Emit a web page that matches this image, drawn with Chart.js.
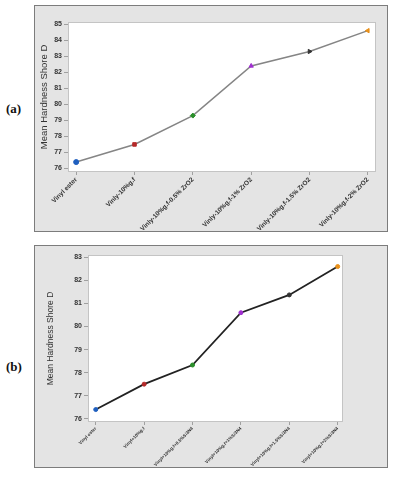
<!DOCTYPE html>
<html>
<head>
<meta charset="utf-8">
<script src="https://cdn.jsdelivr.net/npm/chart.js@4"></script>
<style>
    body { margin: 0; width: 394px; height: 480px; background: #fff; position: relative; overflow: hidden; }
    .panel { position: absolute; left: 34px; width: 354px; background: #e4e4e4; border: 1px solid #7c7c7c; box-sizing: border-box; }
    .panel canvas { display: block; }
    .tag { position: absolute; left: 6px; font: bold 13px "Liberation Serif", "DejaVu Serif", serif; color: #111; }
</style>
</head>
<body>
<div class="tag" style="top: 101px;">(a)</div>
<div class="tag" style="top: 359px;">(b)</div>
<div class="panel" style="top: 5px; height: 227px;"><canvas id="chartA" width="352" height="225"></canvas></div>
<div class="panel" style="top: 245px; height: 223px;"><canvas id="chartB" width="352" height="221"></canvas></div>

<script>
// Mean hardness data, panel (a): glass fibre + ZrO2
const labelsA = ["Vinyl ester", "Vinly-10%g.f", "Vinly-10%g.f-0.5% ZrO2", "Vinly-10%g.f-1% ZrO2", "Vinly-10%g.f-1.5% ZrO2", "Vinly-10%g.f-2% ZrO2"];
const valuesA = [76.4, 77.5, 79.3, 82.4, 83.3, 84.6];
const yTicksA = [76, 77, 78, 79, 80, 81, 82, 83, 84, 85];

// panel (b): glass fibre + Si3N4
const labelsB = ["Vinyl ester", "Vinyl+10%g.f", "Vinyl+10%g.f+0.5%Si3N4", "Vinyl+10%g.f+1%Si3N4", "Vinyl+10%g.f+1.5%Si3N4", "Vinyl+10%g.f+2%Si3N4"];
const valuesB = [76.4, 77.5, 78.33, 80.6, 81.37, 82.6];
const yTicksB = [76, 77, 78, 79, 80, 81, 82, 83];

const markerColors = ["#1f5fbf", "#b52a2a", "#2a8f2a", "#a030d0", "#333333", "#e8901a"];

// white plot area with thin border
const plotBg = {
    id: "plotBg",
    beforeDraw(chart) {
        const { ctx, chartArea: a } = chart;
        ctx.save();
        ctx.fillStyle = "#ffffff";
        ctx.fillRect(a.left, a.top, a.right - a.left, a.bottom - a.top);
        ctx.strokeStyle = "#c4c4c4";
        ctx.lineWidth = 1;
        ctx.strokeRect(a.left + 0.5, a.top + 0.5, a.right - a.left - 1, a.bottom - a.top - 1);
        ctx.restore();
    }
};

function buildChart(id, cfg) {
    const ctx = document.getElementById(id).getContext("2d");
    return new Chart(ctx, {
        type: "line",
        data: {
            datasets: [{
                data: cfg.values.map((v, i) => ({ x: i, y: v })),
                borderColor: cfg.lineColor,
                borderWidth: cfg.lineWidth,
                tension: 0,
                pointStyle: cfg.pointStyles,
                pointRotation: cfg.pointRotations,
                pointRadius: cfg.pointRadius,
                pointBackgroundColor: markerColors,
                pointBorderColor: markerColors,
                pointBorderWidth: 1
            }]
        },
        options: {
            responsive: false,
            animation: false,
            layout: { padding: cfg.padding },
            plugins: { legend: { display: false }, tooltip: { enabled: false } },
            scales: {
                x: {
                    type: "linear",
                    min: cfg.xMin,
                    max: cfg.xMax,
                    afterBuildTicks: s => { s.ticks = cfg.labels.map((l, i) => ({ value: i })); },
                    afterFit: s => { s.height = cfg.xHeight; },
                    grid: { drawOnChartArea: false, drawTicks: true, tickLength: 3, color: "#a0a0a0" },
                    border: { display: false },
                    ticks: {
                        callback: v => cfg.labels[v],
                        maxRotation: 45,
                        minRotation: 45,
                        padding: 1,
                        color: "#333",
                        font: { family: "Liberation Sans", size: cfg.xFont, weight: "bold" }
                    }
                },
                y: {
                    min: cfg.yMin,
                    max: cfg.yMax,
                    afterBuildTicks: s => { s.ticks = cfg.yTicks.map(v => ({ value: v })); },
                    afterFit: s => { s.width = cfg.yWidth; },
                    grid: { drawOnChartArea: false, drawTicks: true, tickLength: 4, color: "#a0a0a0" },
                    border: { display: false },
                    title: {
                        display: true,
                        text: "Mean Hardness Shore D",
                        color: "#333",
                        padding: 0,
                        font: { family: "Liberation Sans", size: cfg.titleFont }
                    },
                    ticks: {
                        padding: 2,
                        color: "#333",
                        font: { family: "Liberation Sans", size: 7, weight: "bold" }
                    }
                }
            }
        },
        plugins: [plotBg]
    });
}

buildChart("chartA", {
    labels: labelsA, values: valuesA, yTicks: yTicksA,
    yMin: 75.78, yMax: 85.14, xMin: -0.14, xMax: 5.14,
    padding: { left: 4, right: 11, top: 16, bottom: 0 },
    yWidth: 29, xHeight: 59, xFont: 6.5, titleFont: 9.5,
    lineColor: "#858585", lineWidth: 1.5, pointRadius: 2.5,
    pointStyles: ["circle", "rect", "rectRot", "triangle", "triangle", "triangle"],
    pointRotations: [0, 0, 0, 0, 90, -90]
});

buildChart("chartB", {
    labels: labelsB, values: valuesB, yTicks: yTicksB,
    yMin: 75.86, yMax: 83.1, xMin: -0.16, xMax: 5.11,
    padding: { left: 11, right: 44, top: 9, bottom: 0 },
    yWidth: 42, xHeight: 45, xFont: 4.5, titleFont: 8.5,
    lineColor: "#222222", lineWidth: 1.8, pointRadius: 2,
    pointStyles: "circle",
    pointRotations: 0
});
</script>
</body>
</html>
